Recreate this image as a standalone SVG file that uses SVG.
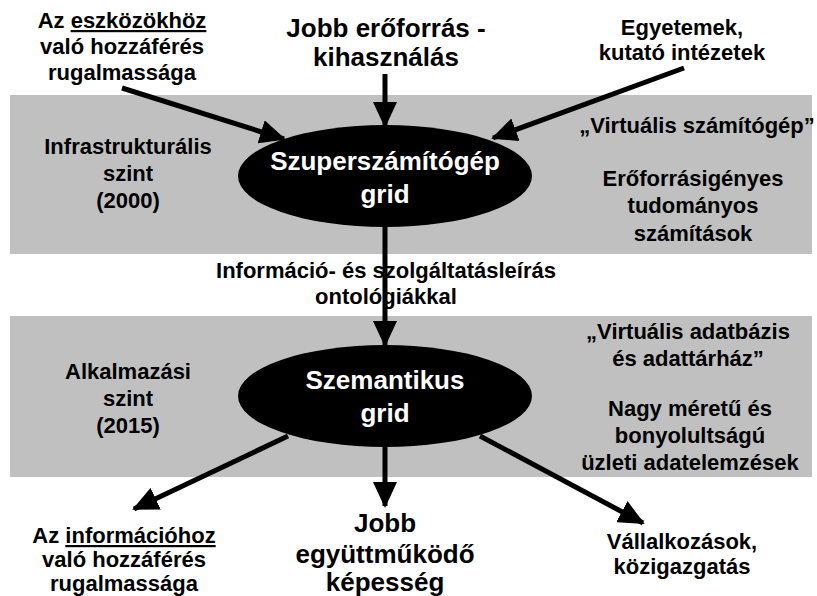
<svg xmlns="http://www.w3.org/2000/svg" width="817" height="596" viewBox="0 0 817 596">
<defs>
<style>
text{font-family:"Liberation Sans",Arial,sans-serif;font-weight:bold;text-anchor:middle;fill:#000}
.t{font-size:22px}
.b{font-size:26px}
.w{fill:#fff;font-size:26px}
.band{fill:#c0c0c0}
.c{stroke:#000;stroke-width:5;fill:none;marker-end:url(#ah)}
</style>
<marker id="ah" markerUnits="userSpaceOnUse" viewBox="0 0 26 24" refX="24" refY="12" markerWidth="26" markerHeight="24" orient="auto">
<path d="M0,0 L26,12 L0,24 z" fill="#000"/>
</marker>
</defs>
<rect width="817" height="596" fill="#fff"/>
<g id="bands">
<rect class="band" x="10" y="95" width="802" height="159"/>
<rect class="band" x="10" y="316" width="802" height="161"/>
</g>
<g id="connectors">
<line class="c" x1="385" y1="74" x2="385" y2="126"/>
<line class="c" x1="122" y1="88" x2="284" y2="139"/>
<line class="c" x1="684" y1="68" x2="493" y2="138"/>
<line class="c" x1="385" y1="226" x2="385" y2="345"/>
<line class="c" x1="288" y1="436" x2="134" y2="509"/>
<line class="c" x1="385" y1="447" x2="385" y2="506"/>
<line class="c" x1="480" y1="436" x2="643" y2="523"/>
</g>
<g id="node-szuper">
<ellipse cx="385" cy="176" rx="147" ry="51" fill="#000"/>
<text class="w" x="385" y="170">Szuperszámítógép</text>
<text class="w" x="385" y="203">grid</text>
</g>
<g id="node-szemantikus">
<ellipse cx="385" cy="396" rx="147" ry="51" fill="#000"/>
<text class="w" x="385" y="389">Szemantikus</text>
<text class="w" x="385" y="422">grid</text>
</g>
<g id="label-eszkoz">
<text class="t" x="122" y="28">Az <tspan text-decoration="underline">eszközökhöz</tspan></text>
<text class="t" x="122" y="54">való hozzáférés</text>
<text class="t" x="122" y="80">rugalmassága</text>
</g>
<g id="label-jobb-eroforras">
<text class="b" x="386" y="37">Jobb erőforrás -</text>
<text class="b" x="386" y="66">kihasználás</text>
</g>
<g id="label-egyetemek">
<text class="t" x="682" y="35">Egyetemek,</text>
<text class="t" x="682" y="60">kutató intézetek</text>
</g>
<g id="label-infra">
<text class="t" x="128" y="154">Infrastrukturális</text>
<text class="t" x="128" y="181">szint</text>
<text class="t" x="128" y="208">(2000)</text>
</g>
<g id="label-virt-gep">
<text class="t" x="697" y="133">„Virtuális számítógép”</text>
<text class="t" x="693" y="186">Erőforrásigényes</text>
<text class="t" x="693" y="213">tudományos</text>
<text class="t" x="693" y="241">számítások</text>
</g>
<g id="label-info">
<text class="t" x="386" y="278">Információ- és szolgáltatásleírás</text>
<text class="t" x="386" y="304">ontológiákkal</text>
</g>
<g id="label-alk">
<text class="t" x="128" y="379">Alkalmazási</text>
<text class="t" x="128" y="406">szint</text>
<text class="t" x="128" y="433">(2015)</text>
</g>
<g id="label-virt-adat">
<text class="t" x="688" y="339">„Virtuális adatbázis</text>
<text class="t" x="688" y="366">és adattárház”</text>
<text class="t" x="690" y="416">Nagy méretű és</text>
<text class="t" x="690" y="443">bonyolultságú</text>
<text class="t" x="690" y="470">üzleti adatelemzések</text>
</g>
<g id="label-informacio">
<text class="t" x="124" y="543">Az <tspan text-decoration="underline">információhoz</tspan></text>
<text class="t" x="124" y="567">való hozzáférés</text>
<text class="t" x="124" y="591">rugalmassága</text>
</g>
<g id="label-egyutt">
<text class="b" x="385" y="532">Jobb</text>
<text class="b" x="385" y="563">együttműködő</text>
<text class="b" x="385" y="591">képesség</text>
</g>
<g id="label-vallalk">
<text class="t" x="682" y="549">Vállalkozások,</text>
<text class="t" x="682" y="574">közigazgatás</text>
</g>
</svg>
